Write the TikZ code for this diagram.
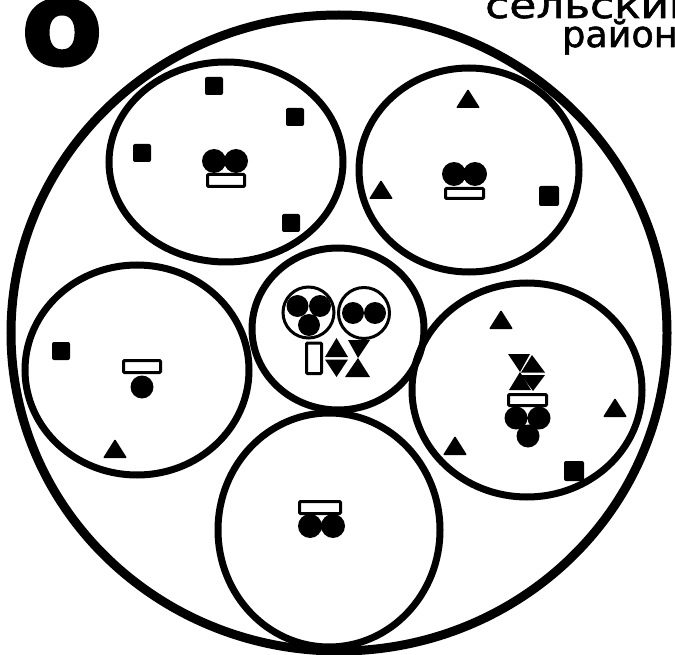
\documentclass[tikz,border=0pt]{standalone}
\usepackage{fontspec}
\setmainfont{DejaVu Sans}
\newfontfamily\heavyfont[FakeBold=8]{DejaVu Sans}
\newfontfamily\labelfont[FakeBold=1.5]{DejaVu Sans}
\begin{document}
\begin{tikzpicture}[x=1pt,y=-1pt,
  outerring/.style={line width=9pt},
  ring/.style={line width=7pt},
  thinring/.style={line width=3pt},
  box/.style={draw,fill=white,line width=3pt,rounded corners=1pt},
  dot/.style={fill=black},
  sqr/.pic={\fill[rounded corners=2pt] (-9,-9) rectangle (9,9);},
  bigsqr/.pic={\fill[rounded corners=2pt] (-10,-10) rectangle (10,10);},
  trg/.pic={\fill[rounded corners=1pt] (-12,9) -- (12,9) -- (0,-10) -- cycle;},
]
\useasboundingbox (0,0) rectangle (675,655);

% texts
\node[font=\heavyfont\bfseries\fontsize{84}{84}\selectfont,inner sep=0pt,anchor=base west,xscale=1.06] (lbl) at (24,63) {O};
\node[font=\labelfont\fontsize{36.5}{40}\selectfont,inner sep=0pt,anchor=base west,xscale=1.2] (t1) at (485,18) {сельский};
\node[font=\labelfont\fontsize{36.5}{40}\selectfont,inner sep=0pt,anchor=base west] (t2) at (562,47) {район};

% rings
\draw[outerring] (339,333) ellipse [x radius=328, y radius=318];
\draw[ring] (226,162) ellipse [x radius=117, y radius=100];
\draw[ring] (469,170) ellipse [x radius=110, y radius=102];
\draw[ring] (137,370) ellipse [x radius=112, y radius=105];
\draw[ring] (338,329) ellipse [x radius=86, y radius=81];
\draw[ring] (527,390) ellipse [x radius=115, y radius=107];
\draw[ring] (329,530) ellipse [x radius=111, y radius=117];

% top-left circle
\pic at (214,86) {sqr};
\pic at (295,117) {sqr};
\pic at (142,153) {sqr};
\pic at (291,223) {sqr};
\fill[dot] (214,161) circle[radius=12] (236,161) circle[radius=12];
\draw[box] (207.5,174.5) rectangle (244.5,186.5);

% top-right circle
\pic at (468,99) {trg};
\pic at (381,190) {trg};
\pic at (549,196) {bigsqr};
\fill[dot] (454,174) circle[radius=12] (475,174) circle[radius=12];
\draw[box] (445.5,188.5) rectangle (483.5,198.5);

% left circle
\pic at (61,351) {sqr};
\pic at (115,449) {trg};
\draw[box] (123.5,360.5) rectangle (160.5,372.5);
\fill[dot] (142,387) circle[radius=11.5];

% bottom circle
\draw[box] (299.5,501.5) rectangle (340.5,513.5);
\fill[dot] (310,526) circle[radius=12] (333,526) circle[radius=12];

% right circle
\pic at (501,320) {trg};
\pic at (615,408) {trg};
\pic at (455,446) {trg};
\pic at (574,471) {bigsqr};
\fill (508,354) -- (530,354) -- (520,372) -- cycle;
\fill (520,372) -- (531,390) -- (509,390) -- cycle;
\fill (532,355) -- (545,372.5) -- (521,372.5) -- cycle;
\fill (521,375) -- (545,375) -- (533,391) -- cycle;
\draw[box] (508.5,394.5) rectangle (546.5,405.5);
\fill[dot] (516,418) circle[radius=11.5] (539,418) circle[radius=11.5] (528,436) circle[radius=11.5];

% centre circle
\draw[thinring] (308.5,312.5) circle[radius=25.5];
\fill[dot] (297.5,306) circle[radius=11] (320,306) circle[radius=11] (309,325) circle[radius=11];
\draw[thinring] (364,313) circle[radius=25.5];
\fill[dot] (353,313) circle[radius=11] (375,313) circle[radius=11];
\draw[box] (306.5,343) rectangle (321.5,373.5);
\fill (336.5,338) -- (348,357) -- (325,357) -- cycle;
\fill (325,359.5) -- (348,359.5) -- (336.5,377) -- cycle;
\fill (348,340) -- (370,340) -- (358,358) -- cycle;
\fill (358,358) -- (370,377) -- (345,377) -- cycle;
\end{tikzpicture}
\end{document}
